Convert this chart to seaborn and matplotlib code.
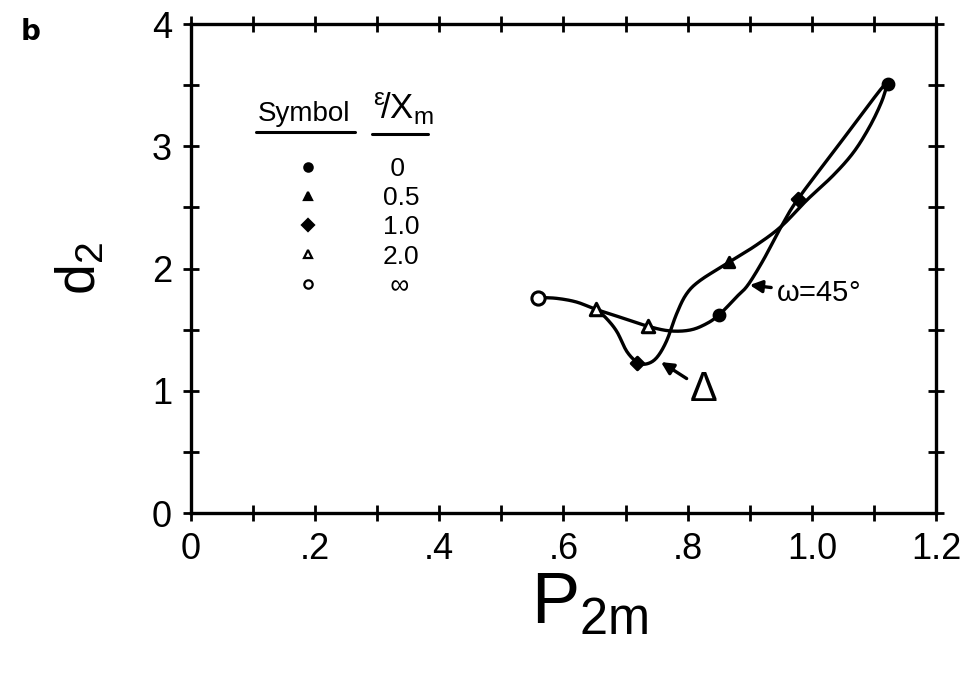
import numpy as np
import pandas as pd
import matplotlib
matplotlib.use('Agg')
import matplotlib.pyplot as plt
import seaborn as sns
from matplotlib.ticker import MultipleLocator, FixedLocator, FixedFormatter
from matplotlib.lines import Line2D

# ---------------- data ----------------
eps_labels = ['0', '0.5', '1.0', '2.0', '\u221e']
pts_x = [0.850, 1.122, 0.866, 0.719, 0.978, 0.653, 0.736, 0.559]
pts_y = [1.62, 3.51, 2.05, 1.23, 2.57, 1.665, 1.53, 1.76]
pts_eps = ['0', '0', '0.5', '1.0', '1.0', '2.0', '2.0', '\u221e']

omega_x = [0.559, 0.589, 0.621, 0.653, 0.696, 0.736, 0.771, 0.804, 0.830,
           0.851, 0.879, 0.897, 0.922, 0.951, 0.978, 1.045, 1.110, 1.122]
omega_y = [1.763, 1.756, 1.726, 1.665, 1.594, 1.528, 1.490, 1.497, 1.548,
           1.623, 1.769, 1.865, 2.071, 2.346, 2.571, 3.023, 3.460, 3.515]

delta_x = [0.653, 0.669, 0.686, 0.702, 0.719, 0.734, 0.750, 0.766, 0.782, 0.798,
           0.820, 0.866, 0.911, 0.951, 0.992, 1.034, 1.067, 1.093, 1.112, 1.122]
delta_y = [1.665, 1.593, 1.484, 1.322, 1.233, 1.220, 1.270, 1.407, 1.627, 1.791,
           1.902, 2.049, 2.193, 2.346, 2.560, 2.760, 2.950, 3.160, 3.360, 3.515]

x_ticks = [0, 0.2, 0.4, 0.6, 0.8, 1.0, 1.2]
x_ticklabels = ['0', '.2', '.4', '.6', '.8', '1.0', '1.2']
y_ticks = [0, 1, 2, 3, 4]
y_ticklabels = ['0', '1', '2', '3', '4']

# ---------------- style ----------------
sns.set_theme(style='white')
FONT = ['Liberation Sans', 'DejaVu Sans']
plt.rcParams['font.family'] = FONT
plt.rcParams['mathtext.fontset'] = 'custom'
plt.rcParams['mathtext.rm'] = 'Liberation Sans'
plt.rcParams['mathtext.it'] = 'Liberation Sans'
for k in ['text.color', 'axes.labelcolor', 'xtick.color', 'ytick.color']:
    plt.rcParams[k] = 'black'


def smooth_path(xs, ys, n=10):
    """Catmull-Rom rendering of a hand-drawn curve through the read points."""
    P = np.column_stack([xs, ys]).astype(float)
    P = np.vstack([P[0] - (P[1] - P[0]), P, P[-1] + (P[-1] - P[-2])])
    out = []
    t = np.linspace(0, 1, n, endpoint=False)
    for i in range(1, len(P) - 2):
        p0, p1, p2, p3 = P[i - 1], P[i], P[i + 1], P[i + 2]
        seg = 0.5 * ((2 * p1)[None, :] + np.outer(t, -p0 + p2)
                     + np.outer(t ** 2, 2 * p0 - 5 * p1 + 4 * p2 - p3)
                     + np.outer(t ** 3, -p0 + 3 * p1 - 3 * p2 + p3))
        out.append(seg)
    out.append(P[-2][None, :])
    out = np.vstack(out)
    return out[:, 0], out[:, 1]


fig = plt.figure(figsize=(9.64, 6.77), dpi=100)
ax = fig.add_axes([0.198, 0.2422, 0.773, 0.7223])

# curves
frames = []
for name, cx, cy in [('omega', omega_x, omega_y), ('delta', delta_x, delta_y)]:
    sx, sy = smooth_path(cx, cy)
    frames.append(pd.DataFrame({'x': sx, 'y': sy, 'curve': name}))
curves = pd.concat(frames)
for name, sub in curves.groupby('curve'):
    sns.lineplot(data=sub, x='x', y='y', sort=False, estimator=None,
                 color='black', linewidth=2.4, ax=ax, legend=False)

# points
pts = pd.DataFrame({'x': pts_x, 'y': pts_y, 'eps': pts_eps})
marker_map = {'0': 'o', '0.5': '^', '1.0': 'D', '2.0': '^', '\u221e': 'o'}
size_map = {'0': 60, '0.5': 55, '1.0': 40, '2.0': 80, '\u221e': 90}
open_map = {'0': False, '0.5': False, '1.0': False, '2.0': True, '\u221e': True}
handles = []
for lab in eps_labels:
    sub = pts[pts['eps'] == lab]
    fc = 'white' if open_map[lab] else 'black'
    sns.scatterplot(data=sub, x='x', y='y', marker=marker_map[lab],
                    s=size_map[lab], color=fc, edgecolor='black',
                    linewidth=2.2, ax=ax, zorder=5, legend=False)
    handles.append(Line2D([], [], linestyle='none', marker=marker_map[lab],
                          markersize=6, markerfacecolor=fc,
                          markeredgecolor='black', markeredgewidth=1.6))

disp_labels = [(' ' + l if len(l) == 1 else l) for l in eps_labels]
leg = ax.legend(handles, disp_labels, loc='upper left',
                bbox_to_anchor=(0.125, 0.750), frameon=False,
                fontsize=19, handletextpad=2.35, labelspacing=0.2,
                handlelength=1.0, borderaxespad=0)

# legend headers
ax.text(0.09, 0.79, 'Symbol', transform=ax.transAxes, fontsize=20,
        ha='left', va='bottom')
ax.text(0.245, 0.79, r'$^{\epsilon}\!/\mathrm{X}_{\mathrm{m}}$',
        transform=ax.transAxes, fontsize=25, ha='left', va='bottom')
ax.plot([0.088, 0.220], [0.780, 0.780], transform=ax.transAxes,
        color='black', lw=2.2, clip_on=False)
ax.plot([0.243, 0.318], [0.776, 0.776], transform=ax.transAxes,
        color='black', lw=2.2, clip_on=False)

# annotations
arrow = dict(arrowstyle='-|>', mutation_scale=18, color='black', lw=2.4)
ax.annotate('\u0394', xy=(0.757, 1.235), xytext=(0.826, 1.01),
            fontsize=30, ha='center', va='center',
            arrowprops=dict(arrow, shrinkA=0, shrinkB=0))
ax.annotate(r'$\omega$=45$\degree$', xy=(0.900, 1.865), xytext=(0.942, 1.80),
            fontsize=21, ha='left', va='center',
            arrowprops=dict(arrow, shrinkA=1, shrinkB=0))

# axes & ticks
ax.set_xlim(0, 1.2)
ax.set_ylim(0, 4)
ax.xaxis.set_major_locator(FixedLocator(x_ticks))
ax.xaxis.set_major_formatter(FixedFormatter(x_ticklabels))
ax.xaxis.set_minor_locator(MultipleLocator(0.1))
ax.yaxis.set_major_locator(FixedLocator(y_ticks))
ax.yaxis.set_major_formatter(FixedFormatter(y_ticklabels))
ax.yaxis.set_minor_locator(MultipleLocator(0.5))
ax.tick_params(which='both', direction='inout', length=11, width=2,
               color='black', top=True, right=True, bottom=True, left=True,
               labeltop=False, labelright=False)
ax.tick_params(axis='x', which='major', labelsize=26, pad=8)
ax.tick_params(axis='y', which='major', labelsize=26, pad=8)
for sp in ax.spines.values():
    sp.set_linewidth(2.4)
    sp.set_color('black')
    sp.set_visible(True)

ax.set_xlabel(r'$\mathregular{P_{2m}}$', fontsize=52)
ax.xaxis.set_label_coords(0.535, -0.12)
ax.set_ylabel(r'$\mathregular{d_{2}}$', fontsize=40)
ax.yaxis.set_label_coords(-0.112, 0.5)

fig.text(0.021, 0.953, 'b', fontsize=20, fontweight='bold', ha='left',
         va='center', family=['DejaVu Sans'])

fig.savefig('out.png', dpi=100, facecolor='white')
